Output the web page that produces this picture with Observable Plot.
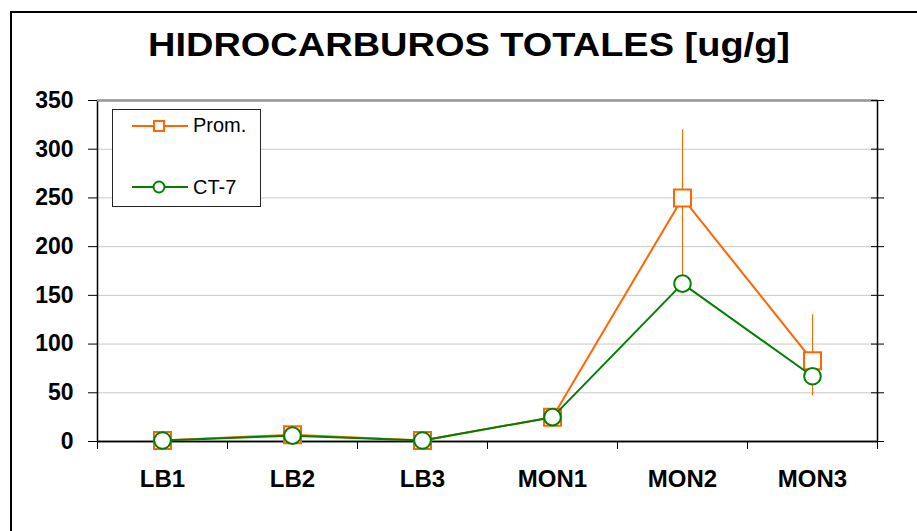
<!DOCTYPE html>
<html>
<head>
<meta charset="utf-8">
<script src="https://cdn.jsdelivr.net/npm/d3@7"></script>
<script src="https://cdn.jsdelivr.net/npm/@observablehq/plot@0.6"></script>
<style>
  body { margin: 0; background: #fff; font-family: "Liberation Sans", Arial, sans-serif; }
  #wrap { position: relative; width: 917px; height: 531px; overflow: hidden; background: #fff; }
  #frame { position: absolute; left: 10px; top: 11px; width: 1000px; height: 600px; border: 2px solid #000; box-sizing: border-box; }
  #chart { position: absolute; left: 0; top: 0; }
  #title { position: absolute; left: 0; top: 0; }
  #legend { position: absolute; left: 112px; top: 109px; width: 149px; height: 98px; border: 1px solid #222; box-sizing: border-box; background: #fff; }
</style>
</head>
<body>
<div id="wrap">
  <div id="frame"></div>
  <div id="chart"></div>
  <svg id="title" width="917" height="80">
    <text x="469" y="56" text-anchor="middle" font-family="Liberation Sans, Arial, sans-serif" font-weight="bold" font-size="33" textLength="642" lengthAdjust="spacingAndGlyphs">HIDROCARBUROS TOTALES [ug/g]</text>
  </svg>
  <div id="legend">
    <svg width="149" height="98">
      <line x1="19" y1="16" x2="75" y2="16" stroke="#FF6600" stroke-width="2"/>
      <rect x="41" y="11" width="10" height="10" fill="#fff" stroke="#FF6600" stroke-width="2"/>
      <text x="80" y="22" font-family="Liberation Sans, Arial, sans-serif" font-size="20">Prom.</text>
      <line x1="19" y1="77" x2="75" y2="77" stroke="#008000" stroke-width="2"/>
      <circle cx="46" cy="77" r="5.5" fill="#fff" stroke="#008000" stroke-width="2"/>
      <text x="80" y="84" font-family="Liberation Sans, Arial, sans-serif" font-size="20">CT-7</text>
    </svg>
  </div>
</div>
<script>
const categories = ["LB1", "LB2", "LB3", "MON1", "MON2", "MON3"];
const promValues = [1, 7, 1, 25, 250, 83];
const promErrLow = [null, null, null, null, 165, 47];
const promErrHigh = [null, null, null, null, 320, 130];
const ct7Values = [1, 6, 1, 25, 162, 67];
const yTicks = [0, 50, 100, 150, 200, 250, 300, 350];

const prom = categories.map((c, i) => ({cat: c, v: promValues[i], lo: promErrLow[i], hi: promErrHigh[i]}));
const ct7 = categories.map((c, i) => ({cat: c, v: ct7Values[i]}));
const errs = prom.filter(d => d.lo != null);

const ORANGE = "#FF6600", GREEN = "#008000";
const font = "Liberation Sans, Arial, sans-serif";

const chart = Plot.plot({
  width: 917,
  height: 531,
  marginLeft: 97,
  marginRight: 40,
  marginTop: 100,
  marginBottom: 90,
  style: {fontFamily: font, background: "transparent", overflow: "visible"},
  x: {type: "band", domain: categories, padding: 0, axis: null},
  y: {domain: [0, 350], axis: null},
  marks: [
    Plot.gridY(yTicks.filter(t => t > 0 && t < 350), {stroke: "#c8c8c8", strokeOpacity: 1, strokeWidth: 1}),
    Plot.frame({stroke: "#000", strokeWidth: 1.5}),
    Plot.ruleY([350], {stroke: "#999", strokeWidth: 2}),
    Plot.ruleY([0], {stroke: "#000", strokeWidth: 1.5}),
    // left axis
    Plot.axisY({anchor: "left", ticks: yTicks, tickSize: 9, tickPadding: 15, fontSize: 23, fontWeight: "bold", label: null, stroke: "#000", fill: "#000"}),
    // right axis crossing ticks
    Plot.axisY({anchor: "right", ticks: yTicks, tickSize: 13, dx: -7, tickFormat: () => "", label: null, stroke: "#000"}),
    // bottom category boundary ticks
    Plot.axisX({anchor: "bottom", ticks: categories, tickSize: 8, dx: -65, tickFormat: () => "", label: null, stroke: "#000"}),
    Plot.axisX({anchor: "bottom", ticks: categories.slice(-1), tickSize: 8, dx: 65, tickFormat: () => "", label: null, stroke: "#000"}),
    // category labels
    Plot.axisX({anchor: "bottom", ticks: categories, tickSize: 0, tickPadding: 28, fontSize: 24, fontWeight: "bold", label: null, fill: "#000"}),
    // Prom. series
    Plot.ruleX(errs, {x: "cat", y1: "lo", y2: "hi", stroke: ORANGE, strokeWidth: 1}),
    Plot.line(prom, {x: "cat", y: "v", stroke: ORANGE, strokeWidth: 2}),
    Plot.dot(prom, {x: "cat", y: "v", symbol: "square", r: 9.6, fill: "#fff", stroke: ORANGE, strokeWidth: 2}),
    // CT-7 series
    Plot.line(ct7, {x: "cat", y: "v", stroke: GREEN, strokeWidth: 2}),
    Plot.dot(ct7, {x: "cat", y: "v", symbol: "circle", r: 8.3, fill: "#fff", stroke: GREEN, strokeWidth: 2})
  ]
});
document.getElementById("chart").appendChild(chart);
</script>
</body>
</html>
